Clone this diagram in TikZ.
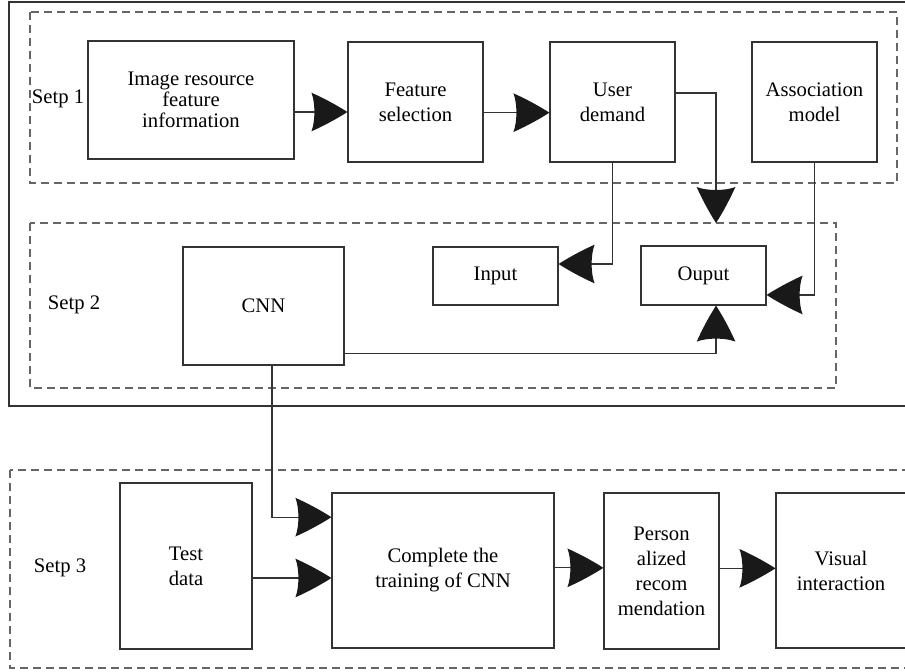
\documentclass[tikz,border=0pt]{standalone}
\usepackage{fontspec}
\setmainfont{Liberation Serif}
\usetikzlibrary{arrows.meta}
% arrow head with a curved back
\pgfdeclarearrow{
  name=Barb,
  setup code={\pgfarrowssettipend{0pt}\pgfarrowssetlineend{-20pt}\pgfarrowssetbackend{-27pt}},
  drawing code={
    \pgfpathmoveto{\pgfpoint{0pt}{0pt}}
    \pgfpathcurveto{\pgfpoint{-10pt}{6.4pt}}{\pgfpoint{-20pt}{11.4pt}}{\pgfpoint{-27pt}{14.5pt}}
    \pgfpathcurveto{\pgfpoint{-24pt}{7pt}}{\pgfpoint{-24pt}{-7pt}}{\pgfpoint{-27pt}{-14.5pt}}
    \pgfpathcurveto{\pgfpoint{-20pt}{-11.4pt}}{\pgfpoint{-10pt}{-6.4pt}}{\pgfpoint{0pt}{0pt}}
    \pgfpathclose
    \pgfsetfillcolor{black!90}
    \pgfusepathqfill
  }
}
\tikzset{
  box/.style={draw=black!80, line width=0.9pt, align=center, inner sep=0pt,
    font=\fontsize{15.5}{18.75}\selectfont},
  stage/.style={draw=black!60, line width=0.9pt, dash pattern=on 6pt off 3.75pt},
  link/.style={draw=black!80, line width=0.9pt},
  bigarrow/.style={link, -Barb},
  steplabel/.style={font=\fontsize{15.5}{17}\selectfont, inner sep=0pt},
}
\begin{document}
\begin{tikzpicture}[x=0.75pt,y=-0.75pt]
  \useasboundingbox (0,0) rectangle (905,671);
  % frames of the three steps
  \draw[link] (9,2) rectangle (925,406);
  \draw[stage] (30,12) rectangle (897,183);
  \draw[stage] (30,223) rectangle (836,388);
  \draw[stage] (10,470) rectangle (925,668);
  \node[steplabel] (s1) at (58,99) {Setp 1};
  \node[steplabel] (s2) at (74,305) {Setp 2};
  \node[steplabel] (s3) at (60,568) {Setp 3};

  % step 1
  \node[box, minimum width=154.5pt, minimum height=88.5pt,
    font=\fontsize{15.5}{15.6}\selectfont] (img) at (191,100)
    {Image resource\\feature\\information};
  \node[box, minimum width=101.25pt, minimum height=90pt] (fsel) at (415.5,102)
    {Feature\\selection};
  \node[box, minimum width=93.75pt, minimum height=90pt] (udem) at (612.5,102)
    {User\\demand};
  \node[box, minimum width=93.75pt, minimum height=90pt] (assoc) at (814.5,102)
    {Association\\model};

  % step 2
  \node[box, minimum width=120.75pt, minimum height=88.5pt] (cnn) at (263.5,306) {CNN};
  \node[box, minimum width=93.75pt, minimum height=43.5pt] (inp) at (495.5,276) {Input};
  \node[box, minimum width=93.75pt, minimum height=44.25pt] (outp) at (703.5,275.5) {Ouput};
  \coordinate (s2top) at (716,223);

  % step 3
  \node[box, minimum width=99pt, minimum height=124.5pt] (test) at (186,566) {Test\\data};
  \node[box, minimum width=166.5pt, minimum height=116.25pt] (train) at (443,570.5)
    {Complete the\\training of CNN};
  \node[box, minimum width=86.25pt, minimum height=117pt] (pers) at (661.5,571)
    {Person\\alized\\recom\\mendation};
  \node[box, minimum width=97.5pt, minimum height=116.25pt] (vis) at (841,570.5)
    {Visual\\interaction};

  % connectors
  \draw[bigarrow] ([yshift=-9pt]img.east) -- ([yshift=-9pt]img.east -| fsel.west);
  \draw[bigarrow] ([yshift=-8pt]fsel.east) -- ([yshift=-8pt]fsel.east -| udem.west);
  \draw[bigarrow] ([yshift=6.75pt]udem.east) -| (s2top);
  \draw[bigarrow] (udem.south) |- ([yshift=9pt]inp.east);
  \draw[bigarrow] (assoc.south) |- ([yshift=-14.6pt]outp.east);
  \draw[bigarrow] ([yshift=9pt]cnn.south east) -| ([xshift=9.4pt]outp.south);
  \draw[bigarrow] ([xshift=6.4pt]cnn.south) |- ([yshift=40pt]train.west);
  \draw[bigarrow] ([yshift=-9pt]test.east) -- ([yshift=-9pt]test.east -| train.west);
  \draw[bigarrow] ([yshift=2pt]train.east) -- ([yshift=2pt]train.east -| pers.west);
  \draw[bigarrow] ([yshift=2pt]pers.east) -- ([yshift=2pt]pers.east -| vis.west);
\end{tikzpicture}
\end{document}
